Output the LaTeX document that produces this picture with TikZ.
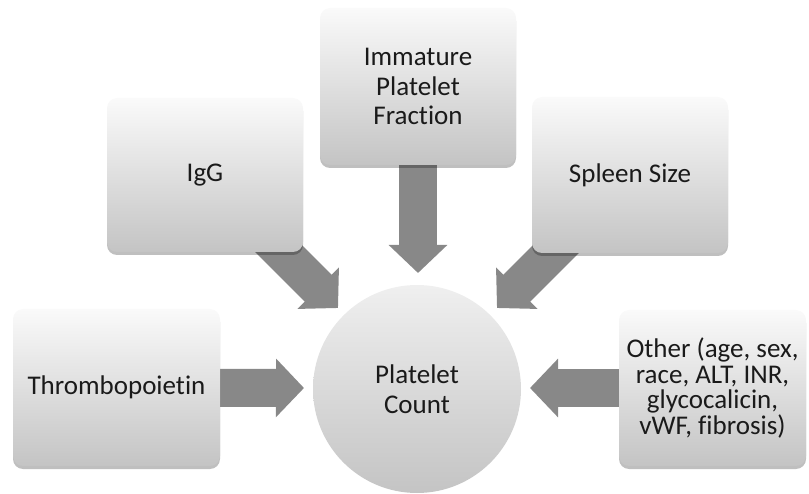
\documentclass[tikz,border=0pt]{standalone}
\usepackage{fontspec}
\setmainfont{Carlito}[Ligatures=NoCommon]
\usetikzlibrary{arrows.meta,shadows}
\definecolor{arrowgray}{HTML}{888888}
\definecolor{boxtop}{HTML}{FAFAFA}
\definecolor{boxbot}{HTML}{C4C4C4}
\definecolor{txt}{HTML}{1A1A1A}
\tikzset{
  factor/.style={rounded corners=10pt, top color=boxtop, bottom color=boxbot,
    draw=none, align=center, inner sep=0pt, text=txt,
    font=\fontsize{27}{29.5}\selectfont,
    drop shadow={shadow xshift=0pt, shadow yshift=-3pt, opacity=0.25, fill=black}},
  tightlines/.style={font=\fontsize{27}{25.7}\selectfont},
  hub/.style={circle, top color=boxtop!80!boxbot, bottom color=boxbot, draw=none,
    align=center, inner sep=0pt, minimum size=208pt, text=txt,
    font=\fontsize{27}{29.5}\selectfont},
  blockarrow/.style={draw=arrowgray, line width=38pt, line cap=butt,
    -{Triangle[width=57pt,length=28pt]}}
}
\begin{document}
\begin{tikzpicture}[x=1pt,y=-1pt]
\useasboundingbox (0,0) rectangle (809,494);
% arrow end points
\coordinate (thrtip) at (304,388);
\coordinate (ipftip) at (418,273);
\coordinate (othtip) at (530,388);
\coordinate (iggstart) at (268,238);
\coordinate (iggtip) at (338,308);
\coordinate (splstart) at (567,238);
\coordinate (spltip) at (497,308);
% circle
\node[hub] (pc) at (417,389) {Platelet\\Count};
% boxes (positions)
\coordinate (thrc) at (116.5,387.5);
\coordinate (iggc) at (205,175);
\coordinate (ipfc) at (418,86.5);
\coordinate (splc) at (630,175);
\coordinate (othc) at (712.5,388);
% arrows
\draw[blockarrow] (thrc) -- (thrtip);
\draw[blockarrow] (ipfc) -- (ipftip);
\draw[blockarrow] (othc) -- (othtip);
\draw[blockarrow] (iggstart) -- (iggtip);
\draw[blockarrow] (splstart) -- (spltip);
% boxes
\node[factor, minimum width=207pt, minimum height=157pt] (thr) at (thrc) {Thrombopoietin};
\node[factor, minimum width=196pt, minimum height=154pt] (igg) at (iggc) {IgG};
\node[factor, minimum width=196pt, minimum height=157pt] (ipf) at (ipfc) {Immature\\Platelet\\Fraction};
\node[factor, minimum width=196pt, minimum height=156pt] (spl) at (splc) {Spleen Size};
\node[factor, tightlines, minimum width=187pt, minimum height=156pt] (oth) at (othc) {Other (age, sex,\\race, ALT, INR,\\glycocalicin,\\vWF, fibrosis)};
\end{tikzpicture}
\end{document}
